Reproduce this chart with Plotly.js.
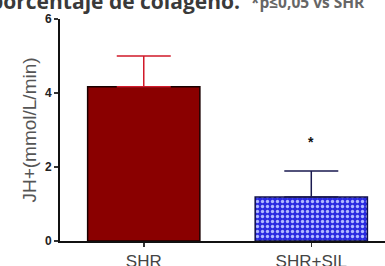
<!DOCTYPE html>
<html><head><meta charset="utf-8">
<script src="https://cdn.plot.ly/plotly-3.0.1.min.js"></script>
<style>html,body{margin:0;padding:0;background:#fff;overflow:hidden}</style>
</head><body>
<div id="chart" style="width:385px;height:266px"></div>
<script>
const categories = ["SHR", "SHR+SIL"];
const means = [4.17, 1.19];
const errors = [0.83, 0.70];
const yTicks = [0, 2, 4, 6];
const titleMain = "porcentaje de colágeno.";
const titleNote = "*p≤0,05 vs SHR";
const sigMark = "*";

const traces = [
  {
    type: "bar", x: [categories[0]], y: [means[0]], width: 0.67,
    marker: {color: "#8a0000", line: {color: "#1a0000", width: 1.5}},
    error_y: {type: "data", symmetric: false, array: [errors[0]], arrayminus: [0], color: "#d11a2a", thickness: 1.5, width: 27},
    hoverinfo: "none"
  },
  {
    type: "bar", x: [categories[1]], y: [means[1]], width: 0.67,
    marker: {color: "#3030e8", line: {color: "#10104a", width: 1.5},
      pattern: {shape: ".", fgcolor: "#b0b8ff", bgcolor: "#2a2ae0", size: 5, solidity: 0.35}},
    error_y: {type: "data", symmetric: false, array: [errors[1]], arrayminus: [0], color: "#1a1a50", thickness: 1.5, width: 27},
    hoverinfo: "none"
  }
];

const layout = {
  width: 385, height: 266,
  margin: {l: 60, r: 0, t: 19, b: 25},
  showlegend: false,
  paper_bgcolor: "#fff", plot_bgcolor: "#fff",
  xaxis: {
    type: "category", range: [-0.5, 1.44],
    showline: true, linecolor: "#111", linewidth: 2,
    ticks: "outside", ticklen: 4, tickcolor: "#333", tickwidth: 1.5,
    tickfont: {family: "Arial, Liberation Sans, sans-serif", size: 17, color: "#444"},
    showgrid: false, zeroline: false, fixedrange: true
  },
  yaxis: {
    range: [0, 6], tickvals: yTicks, ticktext: yTicks.map(String),
    showline: true, linecolor: "#111", linewidth: 2,
    ticks: "outside", ticklen: 4, tickcolor: "#333", tickwidth: 1.5,
    tickfont: {family: "Arial, Liberation Sans, sans-serif", size: 12, color: "#222", weight: "bold"},
    showgrid: false, zeroline: false,
    title: {text: "JH+(mmol/L/min)", standoff: 3, font: {family: "Arial, Liberation Sans, sans-serif", size: 19, color: "#555"}}
  },
  annotations: [
    {xref: "paper", yref: "paper", x: 0, y: 1, xanchor: "left", yanchor: "middle",
     xshift: -72, yshift: 18, showarrow: false, text: titleMain,
     font: {family: "Open Sans, sans-serif", size: 21, color: "#3a3a3a", weight: "bold"}},
    {xref: "paper", yref: "paper", x: 0, y: 1, xanchor: "left", yanchor: "middle",
     xshift: 189, yshift: 17, showarrow: false, text: titleNote,
     font: {family: "Open Sans, sans-serif", size: 15.5, color: "#666", weight: "bold"}},
    {xref: "x", yref: "y", x: categories[1], y: means[1] + errors[1], yshift: 29,
     showarrow: false, text: sigMark,
     font: {family: "Arial, sans-serif", size: 14, color: "#111", weight: "bold"}}
  ]
};

Plotly.newPlot("chart", traces, layout, {displayModeBar: false, staticPlot: true});
</script>
</body></html>
